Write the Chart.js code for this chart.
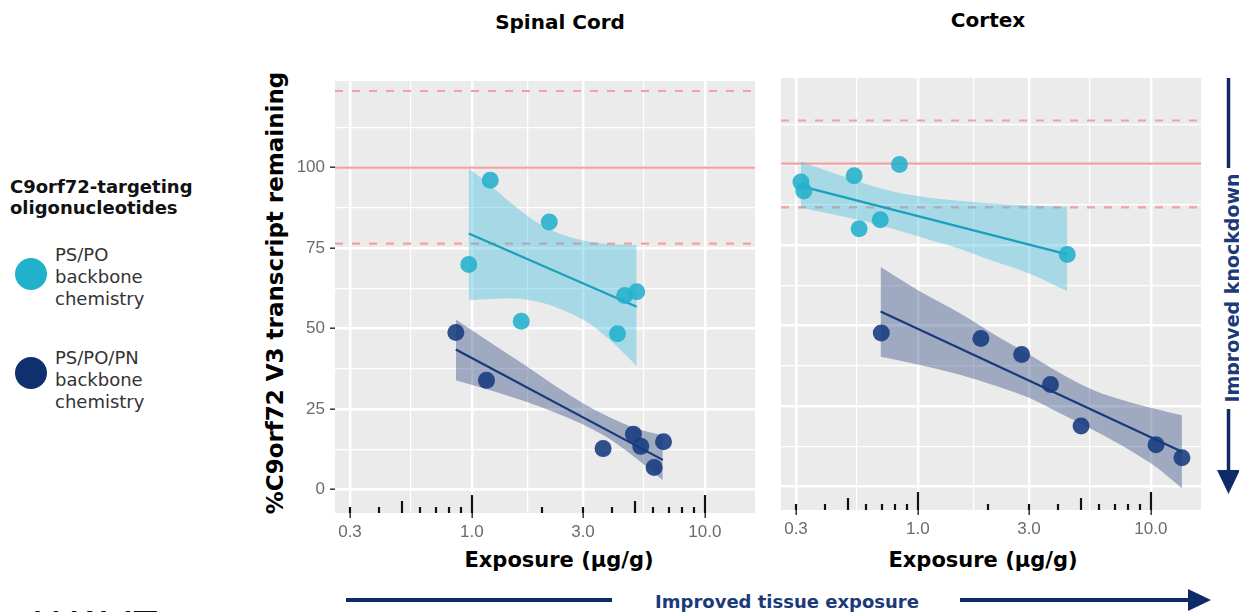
<!DOCTYPE html>
<html>
<head>
<meta charset="utf-8">
<script src="https://cdn.jsdelivr.net/npm/chart.js@4.4.1/dist/chart.umd.min.js"></script>
<style>
  body { margin: 0; background: #fff; width: 1239px; height: 612px; overflow: hidden; position: relative; font-family: "DejaVu Sans", sans-serif; }
  canvas { position: absolute; }
  .t { position: absolute; white-space: nowrap; line-height: 1; }
  .b { font-weight: bold; }
  .dot { position: absolute; width: 32px; height: 32px; border-radius: 50%; }
</style>
</head>
<body>

<div class="t b" style="left:560px;top:12px;font-size:20px;transform:translateX(-50%)">Spinal Cord</div>
<div class="t b" style="left:988px;top:10px;font-size:20px;transform:translateX(-50%)">Cortex</div>

<div class="t b" style="left:275px;top:293px;font-size:23px;transform:translate(-50%,-50%) rotate(-90deg)">%C9orf72 V3 transcript remaining</div>
<div class="t b" style="left:559px;top:550px;font-size:21px;transform:translateX(-50%)">Exposure (µg/g)</div>
<div class="t b" style="left:983px;top:550px;font-size:21px;transform:translateX(-50%)">Exposure (µg/g)</div>

<div class="t b" style="left:10px;top:176px;font-size:18px;line-height:21px;color:#111">C9orf72-targeting<br>oligonucleotides</div>
<div class="dot" style="left:15px;top:258px;background:#22b1cc"></div>
<div class="t" style="left:55px;top:244px;font-size:18px;line-height:22px;color:#333">PS/PO<br>backbone<br>chemistry</div>
<div class="dot" style="left:15px;top:357px;background:#0f2f6f"></div>
<div class="t" style="left:55px;top:347px;font-size:18px;line-height:22px;color:#333">PS/PO/PN<br>backbone<br>chemistry</div>

<div class="t b" style="left:787px;top:593px;font-size:18px;color:#1b3a7a;transform:translateX(-50%)">Improved tissue exposure</div>
<div class="t b" style="left:1232px;top:288px;font-size:19px;color:#1b3a7a;transform:translate(-50%,-50%) rotate(-90deg)">Improved knockdown</div>
<div class="t" style="left:35px;top:605px;font-size:44px;font-family:'Liberation Sans';color:#111">WAVE</div>

<canvas id="spinal" width="525" height="612" style="left:240px;top:0px"></canvas>
<canvas id="cortex" width="474" height="612" style="left:765px;top:-3px"></canvas>

<svg width="1239" height="612" style="position:absolute;left:0;top:0;pointer-events:none">
  <g stroke="#0e2b68" stroke-width="4" fill="none">
    <line x1="346" y1="600" x2="612" y2="600"/>
    <line x1="960" y1="600" x2="1192" y2="600"/>
  </g>
  <polygon points="1188,589 1211,600 1188,611" fill="#0e2b68"/>
  <g stroke="#0e2b68" stroke-width="3.5">
    <line x1="1228.5" y1="78" x2="1228.5" y2="168"/>
    <line x1="1228.5" y1="409" x2="1228.5" y2="472"/>
  </g>
  <polygon points="1217,470 1240,470 1228.5,494" fill="#0e2b68"/>
</svg>

<script>
// axis ranges and ticks
var xMin = 0.2587, xMax = 16.42;
var yMin = -7.3, yMax = 126.9;
var xTickValues = [0.3, 1, 3, 10];
var xTickLabels = ['0.3', '1.0', '3.0', '10.0'];
var yTickValues = [0, 25, 50, 75, 100];
var logTicks = [0.3, 0.4, 0.5, 0.6, 0.7, 0.8, 0.9, 1, 2, 3, 4, 5, 6, 7, 8, 9, 10];

// Spinal Cord
var scPsPoX = [0.97, 1.20, 1.63, 2.15, 4.22, 4.53, 5.10];
var scPsPoY = [69.9, 96.1, 52.3, 83.1, 48.4, 60.3, 61.4];
var scPnX = [0.854, 1.156, 3.66, 4.94, 5.31, 6.06, 6.65];
var scPnY = [48.8, 33.9, 12.7, 17.2, 13.4, 6.8, 14.8];
var scPsPoFitX = [0.97, 5.1];
var scPsPoFitY = [79.5, 56.8];
var scPnFitX = [0.854, 6.6];
var scPnFitY = [43.5, 9.2];
var scPsPoBandX = [0.97, 1.2, 1.5, 2.0, 2.5, 3.2, 4.0, 5.1];
var scPsPoUpper = [99.7, 94.5, 88.5, 82.0, 79.0, 77.0, 76.2, 75.9];
var scPsPoLower = [58.8, 59.2, 59.3, 58.0, 55.5, 51.5, 45.8, 38.4];
var scPnBandX = [0.854, 1.2, 1.7, 2.3, 3.0, 3.8, 4.8, 5.8, 6.6];
var scPnUpper = [52.8, 45.7, 38.5, 32.0, 26.8, 22.8, 19.6, 17.8, 17.0];
var scPnLower = [33.9, 30.8, 27.3, 23.8, 20.2, 16.2, 11.0, 6.2, 2.9];
var scRef = 100;
var scRefBand = [76.4, 123.8];

// Cortex
var cxPsPoX = [0.315, 0.324, 0.533, 0.56, 0.69, 0.834, 4.38];
var cxPsPoY = [94.6, 91.8, 96.5, 80.1, 82.9, 100.0, 72.1];
var cxPnX = [0.697, 1.865, 2.79, 3.71, 5.02, 10.53, 13.6];
var cxPnY = [47.7, 46.0, 41.0, 31.7, 18.8, 13.0, 8.9];
var cxPsPoFitX = [0.315, 4.38];
var cxPsPoFitY = [93.3, 72.1];
var cxPnFitX = [0.692, 13.6];
var cxPnFitY = [54.4, 10.8];
var cxPsPoBandX = [0.315, 0.45, 0.6, 0.8, 1.1, 1.5, 2.0, 3.0, 4.38];
var cxPsPoUpper = [100.9, 97.0, 94.0, 91.5, 89.8, 88.8, 88.0, 87.3, 86.9];
var cxPsPoLower = [86.6, 84.3, 82.3, 79.8, 76.8, 73.9, 70.6, 66.2, 60.7];
var cxPnBandX = [0.692, 1.0, 1.53, 2.2, 2.95, 4.0, 5.69, 8.0, 10.5, 13.6];
var cxPnUpper = [68.2, 61.0, 53.7, 46.6, 41.3, 35.6, 29.9, 26.3, 24.1, 22.1];
var cxPnLower = [40.3, 37.9, 34.6, 31.1, 27.8, 23.1, 17.5, 11.6, 6.1, -0.6];
var cxRef = 100.3;
var cxRefBand = [86.7, 113.7];

var lightPoint = 'rgba(34,176,204,0.88)';
var darkPoint = 'rgba(22,58,128,0.88)';
var lightLine = '#1a9fbd';
var darkLine = '#183a7a';
var lightBand = 'rgba(62,190,220,0.4)';
var darkBand = 'rgba(45,70,125,0.4)';
var refColor = '#f2a0a0';
var tickColor = '#6b6b6b';
var none = 'rgba(0,0,0,0)';

var xGrid = [0.3, Math.sqrt(0.3), 1, Math.sqrt(3), 3, Math.sqrt(30), 10];
var yGrid = [0, 12.5, 25, 37.5, 50, 62.5, 75, 87.5, 100, 112.5];

function pts(xs, ys) {
  return xs.map(function (x, i) { return {x: x, y: ys[i]}; });
}

function hasValue(list, v) {
  return list.some(function (m) { return Math.abs(m - v) < 1e-6; });
}

var panelBg = {
  id: 'panelBg',
  beforeDraw: function (chart) {
    var a = chart.chartArea, ctx = chart.ctx;
    ctx.save();
    ctx.fillStyle = '#ebebeb';
    ctx.fillRect(a.left, a.top, a.right - a.left, a.bottom - a.top);
    ctx.restore();
  }
};

// annotation_logticks style marks along the bottom of each panel
var logTickMarks = {
  id: 'logTickMarks',
  afterDatasetsDraw: function (chart) {
    var ctx = chart.ctx, sx = chart.scales.x, b = chart.chartArea.bottom;
    ctx.save();
    ctx.strokeStyle = '#111';
    ctx.lineWidth = 2.2;
    logTicks.forEach(function (v) {
      var m = v / Math.pow(10, Math.floor(Math.log10(v) + 1e-9));
      var len = Math.abs(m - 1) < 1e-6 ? 18 : (Math.abs(m - 5) < 1e-6 ? 12 : 6);
      var px = Math.round(sx.getPixelForValue(v));
      ctx.beginPath();
      ctx.moveTo(px, b);
      ctx.lineTo(px, b - len);
      ctx.stroke();
    });
    ctx.restore();
  }
};

function band(xs, ys, fill, color) {
  return {
    type: 'line', data: pts(xs, ys), borderWidth: 0, borderColor: none,
    pointRadius: 0, fill: fill, backgroundColor: color,
    cubicInterpolationMode: 'monotone', order: 2
  };
}

function hline(y, dash, width) {
  return {
    type: 'line', data: pts([xMin, xMax], [y, y]), borderColor: refColor,
    borderWidth: width, borderDash: dash, pointRadius: 0, fill: false, order: 3
  };
}

function drawPanel(id, d, showY, pad) {
  var datasets = [
    {type: 'scatter', data: pts(d.psX, d.psY), backgroundColor: lightPoint, borderColor: lightPoint,
      borderWidth: 0, pointRadius: 8.5, order: 0},
    {type: 'scatter', data: pts(d.pnX, d.pnY), backgroundColor: darkPoint, borderColor: darkPoint,
      borderWidth: 0, pointRadius: 8.5, order: 0},
    {type: 'line', data: pts(d.psFitX, d.psFitY), borderColor: lightLine, borderWidth: 2.2,
      pointRadius: 0, fill: false, order: 1},
    {type: 'line', data: pts(d.pnFitX, d.pnFitY), borderColor: darkLine, borderWidth: 2.2,
      pointRadius: 0, fill: false, order: 1},
    band(d.psBandX, d.psUpper, '+1', lightBand),
    band(d.psBandX, d.psLower, false, none),
    band(d.pnBandX, d.pnUpper, '+1', darkBand),
    band(d.pnBandX, d.pnLower, false, none),
    hline(d.ref, [], 2.2),
    hline(d.refBand[0], [8, 9], 2.2),
    hline(d.refBand[1], [8, 9], 2.2)
  ];

  new Chart(document.getElementById(id), {
    type: 'scatter',
    data: {datasets: datasets},
    plugins: [panelBg, logTickMarks],
    options: {
      responsive: false,
      animation: false,
      devicePixelRatio: 1,
      layout: {padding: pad},
      plugins: {legend: {display: false}, tooltip: {enabled: false}},
      scales: {
        x: {
          type: 'logarithmic', min: xMin, max: xMax,
          afterBuildTicks: function (s) { s.ticks = xGrid.map(function (v) { return {value: v}; }); },
          afterFit: function (s) { s.height = 99; },
          ticks: {
            autoSkip: false, maxRotation: 0, padding: 4, color: tickColor,
            font: {family: 'Liberation Sans', size: 17},
            callback: function (v) {
              for (var i = 0; i < xTickValues.length; i++) {
                if (Math.abs(xTickValues[i] - v) < 1e-6) return xTickLabels[i];
              }
              return '';
            }
          },
          grid: {
            color: '#fff', tickLength: 5, tickWidth: 1.5,
            lineWidth: function (c) { return c.tick && hasValue(xTickValues, c.tick.value) ? 2.4 : 1.2; },
            tickColor: function (c) { return c.tick && hasValue(xTickValues, c.tick.value) ? '#333' : none; }
          },
          border: {display: false}
        },
        y: {
          type: 'linear', min: yMin, max: yMax,
          afterBuildTicks: function (s) { s.ticks = yGrid.map(function (v) { return {value: v}; }); },
          afterFit: function (s) { s.width = showY ? 95 : 0; },
          ticks: {
            display: showY, padding: 5, color: tickColor,
            font: {family: 'Liberation Sans', size: 17},
            callback: function (v) { return hasValue(yTickValues, v) ? String(v) : ''; }
          },
          grid: {
            color: '#fff', drawTicks: showY, tickLength: 5, tickWidth: 1.5,
            lineWidth: function (c) { return c.tick && hasValue(yTickValues, c.tick.value) ? 2.4 : 1.2; },
            tickColor: function (c) { return c.tick && hasValue(yTickValues, c.tick.value) ? '#333' : none; }
          },
          border: {display: false}
        }
      }
    }
  });
}

drawPanel('spinal', {
  psX: scPsPoX, psY: scPsPoY, pnX: scPnX, pnY: scPnY,
  psFitX: scPsPoFitX, psFitY: scPsPoFitY, pnFitX: scPnFitX, pnFitY: scPnFitY,
  psBandX: scPsPoBandX, psUpper: scPsPoUpper, psLower: scPsPoLower,
  pnBandX: scPnBandX, pnUpper: scPnUpper, pnLower: scPnLower,
  ref: scRef, refBand: scRefBand
}, true, {top: 81, left: 0, right: 10, bottom: 0});

drawPanel('cortex', {
  psX: cxPsPoX, psY: cxPsPoY, pnX: cxPnX, pnY: cxPnY,
  psFitX: cxPsPoFitX, psFitY: cxPsPoFitY, pnFitX: cxPnFitX, pnFitY: cxPnFitY,
  psBandX: cxPsPoBandX, psUpper: cxPsPoUpper, psLower: cxPsPoLower,
  pnBandX: cxPnBandX, pnUpper: cxPnUpper, pnLower: cxPnLower,
  ref: cxRef, refBand: cxRefBand
}, false, {top: 81, left: 16, right: 38, bottom: 0});
</script>
</body>
</html>
